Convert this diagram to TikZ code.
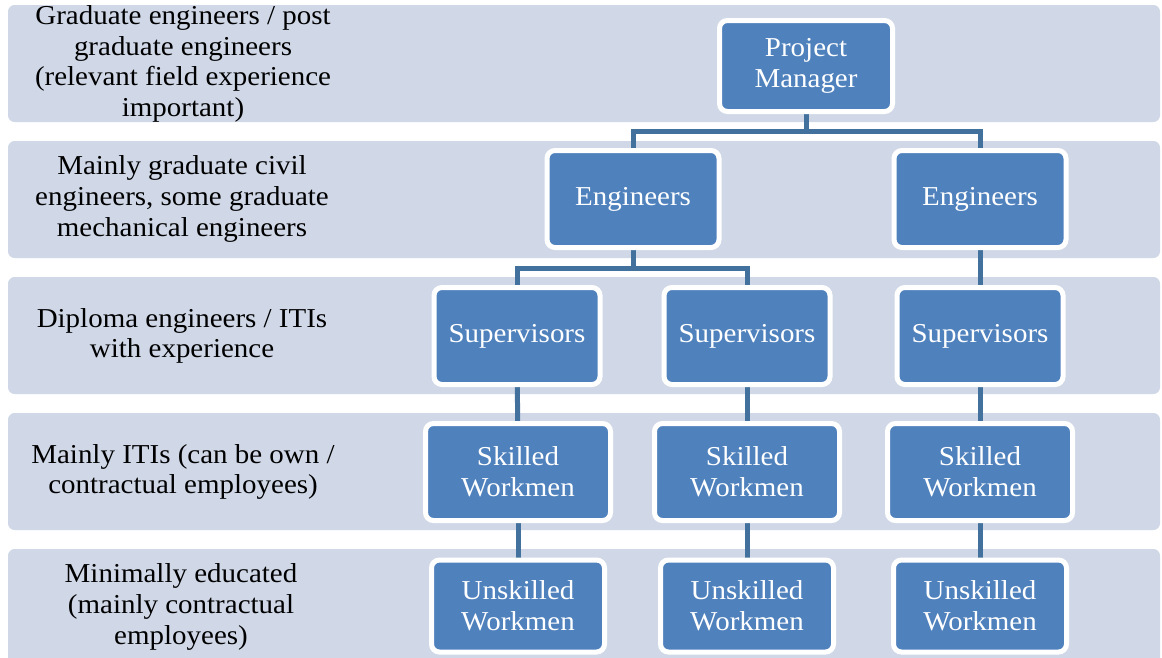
\documentclass[tikz,border=0pt]{standalone}
\usepackage{fontspec}
\setmainfont{Liberation Serif}[FakeStretch=1.06]
\pgfdeclarelayer{bg}
\pgfdeclarelayer{mid}
\pgfsetlayers{bg,mid,main}
\definecolor{bandc}{HTML}{D0D8E8}
\definecolor{boxblue}{HTML}{4F81BD}
\definecolor{connc}{HTML}{41719C}
\tikzset{
  bandrow/.style={fill=bandc, rounded corners=5pt},
  lbl/.style={align=center, font=\fontsize{20.5}{23}\selectfont, text=black, inner sep=0pt},
  orgbox/.style={fill=boxblue, draw=white, line width=3.75pt, rounded corners=6pt,
    text=white, align=center, font=\fontsize{20.5}{23}\selectfont, inner sep=0pt},
  pmbox/.style={orgbox, minimum width=129.75pt, minimum height=68.25pt},
  engbox/.style={orgbox, minimum width=129pt, minimum height=72.75pt},
  supbox/.style={orgbox, minimum width=124.5pt, minimum height=72.75pt},
  skbox/.style={orgbox, minimum width=138.75pt, minimum height=72.75pt},
  unbox/.style={orgbox, minimum width=129.75pt, minimum height=69pt},
  conn/.style={draw=connc, line width=3.75pt},
}
\begin{document}
\begin{tikzpicture}[x=0.75pt,y=-0.75pt]
\useasboundingbox (0,0) rectangle (1162,657);
% bands
\begin{pgfonlayer}{bg}
\fill[bandrow] (8,5) rectangle (1160,122);
\fill[bandrow] (8,141) rectangle (1160,258);
\fill[bandrow] (8,277) rectangle (1160,394);
\fill[bandrow] (8,413) rectangle (1160,530);
\fill[bandrow] (8,549) rectangle (1160,670);
\end{pgfonlayer}
% left labels
\node[lbl] (l1) at (183,64) {Graduate engineers / post\\graduate engineers\\(relevant field experience\\important)};
\node[lbl] (l2) at (182,199) {Mainly graduate civil\\engineers, some graduate\\mechanical engineers};
\node[lbl] (l3) at (182,336) {Diploma engineers / ITIs\\with experience};
\node[lbl] (l4) at (183,472) {Mainly ITIs (can be own /\\contractual employees)};
\node[lbl] (l5) at (181,607) {Minimally educated\\(mainly contractual\\employees)};
% boxes
\node[pmbox] (pm) at (806,66) {Project\\Manager};
\node[engbox] (e1) at (633,199) {Engineers};
\node[engbox] (e2) at (980,199) {Engineers};
\node[supbox] (s1) at (517,336) {Supervisors};
\node[supbox] (s2) at (747,336) {Supervisors};
\node[supbox] (s3) at (980,336) {Supervisors};
\node[skbox] (k1) at (518,472) {Skilled\\Workmen};
\node[skbox] (k2) at (747,472) {Skilled\\Workmen};
\node[skbox] (k3) at (980,472) {Skilled\\Workmen};
\node[unbox] (u1) at (518,606) {Unskilled\\Workmen};
\node[unbox] (u2) at (747,606) {Unskilled\\Workmen};
\node[unbox] (u3) at (980,606) {Unskilled\\Workmen};
\coordinate (h1) at (0,131);
\coordinate (h2) at (0,268);
% connectors
\begin{pgfonlayer}{mid}
\draw[conn] (pm.south) -- (pm.south |- h1);
\draw[conn] (pm.south |- h1) -| (e1.north);
\draw[conn] (pm.south |- h1) -| (e2.north);
\draw[conn] (e1.south) -- (e1.south |- h2);
\draw[conn] (e1.south |- h2) -| (s1.north);
\draw[conn] (e1.south |- h2) -| (s2.north);
\draw[conn] (e2) -- (s3);
\draw[conn] (s1) -- (k1);
\draw[conn] (s2) -- (k2);
\draw[conn] (s3) -- (k3);
\draw[conn] (k1) -- (u1);
\draw[conn] (k2) -- (u2);
\draw[conn] (k3) -- (u3);
\end{pgfonlayer}
\end{tikzpicture}
\end{document}
